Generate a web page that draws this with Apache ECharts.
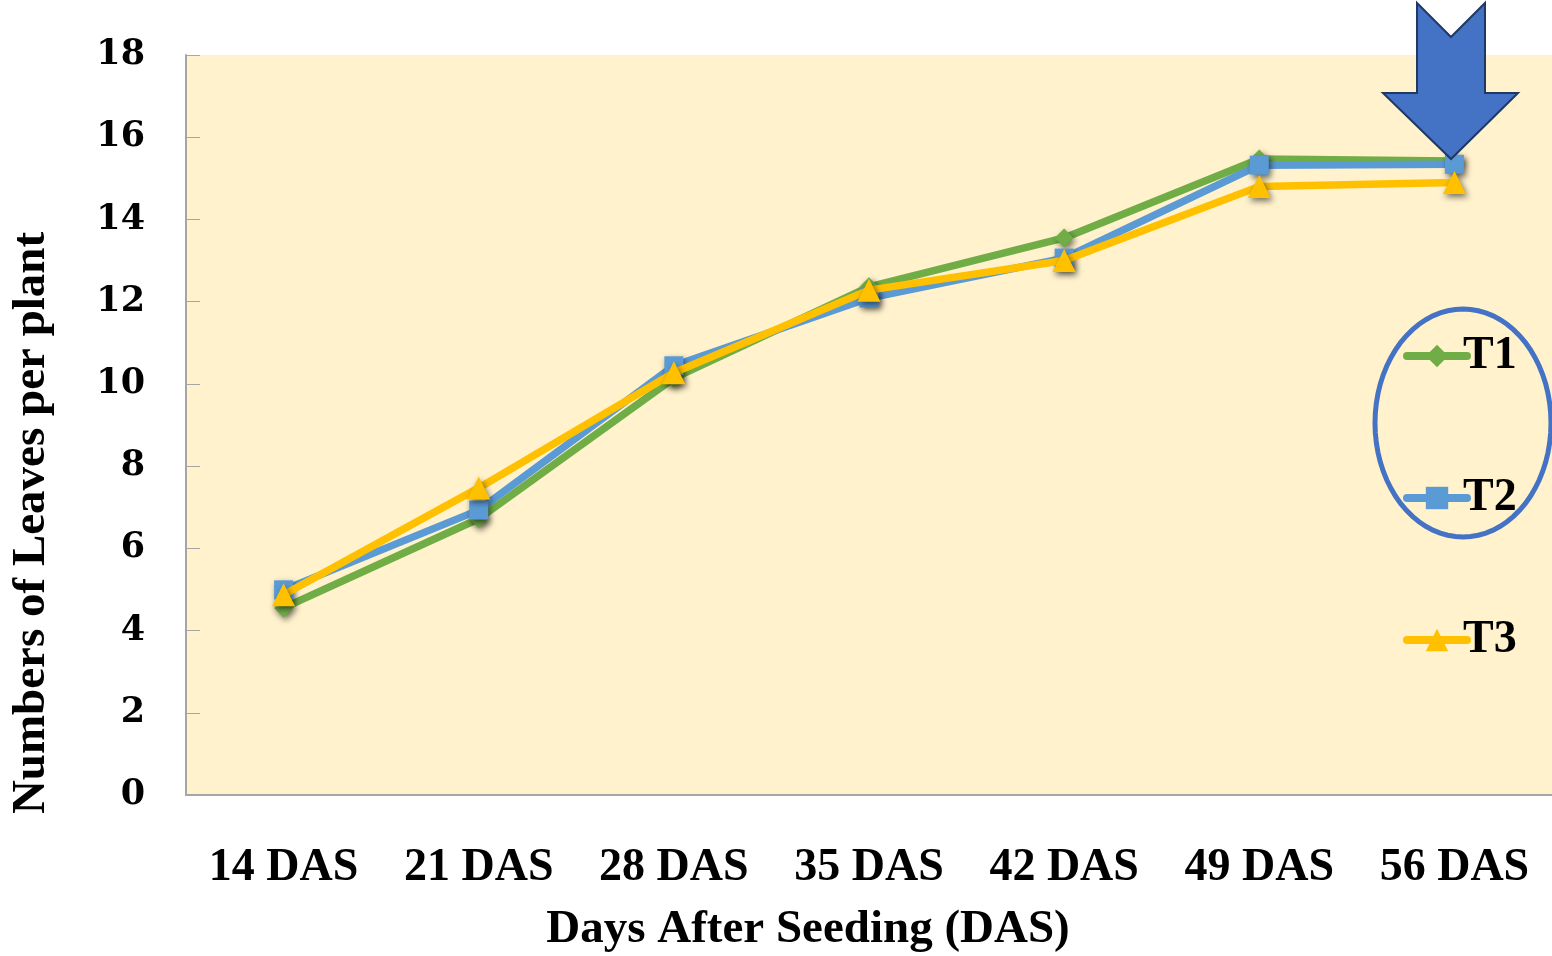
<!DOCTYPE html>
<html>
<head>
<meta charset="utf-8">
<script src="https://cdn.jsdelivr.net/npm/echarts@6/dist/echarts.min.js"></script>
<style>
  html, body { margin: 0; padding: 0; background: #fff; }
  #chart { width: 1552px; height: 956px; }
</style>
</head>
<body>
<div id="chart"></div>
<script>
const categories = ['14 DAS', '21 DAS', '28 DAS', '35 DAS', '42 DAS', '49 DAS', '56 DAS']
const t1 = [4.55, 6.72, 10.14, 12.36, 13.55, 15.47, 15.42]
const t2 = [4.99, 6.93, 10.44, 12.09, 13.06, 15.32, 15.34]
const t3 = [4.87, 7.47, 10.27, 12.28, 13.0, 14.8, 14.9]
const seriesNames = ['T1', 'T2', 'T3']
const seriesColors = ['#70AD47', '#5B9BD5', '#FFC000']
const seriesSymbols = ['diamond', 'rect', 'triangle']

const serif = '"Liberation Serif", "Times New Roman", serif'

const chart = echarts.init(document.getElementById('chart'))

// ellipse round T1/T2 in the legend
const ellipsePts = []
for (let i = 0; i <= 72; i++) {
  const a = i / 72 * Math.PI * 2
  ellipsePts.push([1463 + 88 * Math.cos(a), 423 + 114 * Math.sin(a)])
}

function makeSeries(name, data, idx) {
  return {
    name: name,
    type: 'line',
    data: data,
    symbol: seriesSymbols[idx],
    symbolSize: idx === 2 ? 23 : 19,
    z: 2 + idx,
    lineStyle: { color: seriesColors[idx], width: 7.5 },
    itemStyle: {
      color: seriesColors[idx],
      shadowBlur: 6,
      shadowColor: 'rgba(0,0,0,0.55)',
      shadowOffsetX: 2,
      shadowOffsetY: 3
    },
    emphasis: { disabled: true }
  }
}

const option = {
  animation: false,
  backgroundColor: '#ffffff',
  grid: {
    left: 186,
    right: 0,
    top: 55,
    bottom: 161,
    show: true,
    backgroundColor: '#FFF2CC',
    borderWidth: 0
  },
  legend: {
    orient: 'vertical',
    left: 1398,
    top: 328,
    itemWidth: 60,
    itemHeight: 28,
    itemGap: 96,
    selectedMode: false,
    data: seriesNames,
    lineStyle: { width: 8, cap: 'round' },
    itemStyle: { shadowBlur: 0 },
    textStyle: {
      fontFamily: serif,
      fontWeight: 'bold',
      fontSize: 46,
      color: '#000',
      padding: [0, 0, 0, -9]
    }
  },
  xAxis: {
    type: 'category',
    data: categories,
    boundaryGap: true,
    axisLine: { lineStyle: { color: '#A6A6A6', width: 2 } },
    axisTick: { inside: true, length: 15, lineStyle: { color: '#A6A6A6', width: 1 } },
    axisLabel: {
      margin: 50,
      fontFamily: serif,
      fontWeight: 'bold',
      fontSize: 46,
      color: '#000'
    }
  },
  yAxis: {
    type: 'value',
    min: 0,
    max: 18,
    interval: 2,
    splitLine: { show: false },
    axisLine: { show: true, lineStyle: { color: '#A6A6A6', width: 2 } },
    axisTick: { show: true, inside: true, length: 14, lineStyle: { color: '#A6A6A6', width: 1 } },
    axisLabel: {
      margin: 41,
      fontFamily: '"DejaVu Serif", serif',
      fontWeight: 'bold',
      fontSize: 35,
      color: '#000'
    }
  },
  graphic: [
    {
      type: 'text',
      x: 32,
      y: 523,
      rotation: Math.PI / 2,
      style: {
        text: 'Numbers of Leaves per plant',
        font: 'bold 47px "Liberation Serif", serif',
        fill: '#000',
        textAlign: 'center',
        textVerticalAlign: 'middle'
      }
    },
    {
      type: 'text',
      x: 808,
      y: 930,
      style: {
        text: 'Days After Seeding (DAS)',
        font: 'bold 47px "Liberation Serif", serif',
        fill: '#000',
        textAlign: 'center',
        textVerticalAlign: 'middle'
      }
    },
    {
      type: 'polyline',
      z: 10,
      shape: { points: ellipsePts },
      style: { stroke: '#4472C4', lineWidth: 5, fill: null }
    },
    {
      type: 'polygon',
      z: 10,
      shape: {
        points: [[1417, 3], [1451, 37], [1485, 3], [1485, 93], [1518, 93],
          [1451, 159], [1383, 93], [1417, 93]]
      },
      style: { fill: '#4472C4', stroke: '#1F3864', lineWidth: 2 }
    }
  ],
  series: [
    makeSeries(seriesNames[0], t1, 0),
    makeSeries(seriesNames[1], t2, 1),
    makeSeries(seriesNames[2], t3, 2)
  ]
}

chart.setOption(option)
</script>
</body>
</html>
